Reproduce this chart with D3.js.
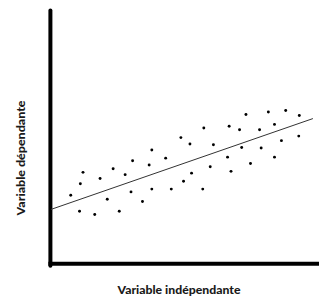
<!DOCTYPE html>
<html><head><meta charset="utf-8">
<script src="https://cdn.jsdelivr.net/npm/d3@7"></script>
<style>body{margin:0;background:#fff}svg{display:block}</style>
</head><body>
<svg id="c" width="319" height="297"></svg>
<script>
const xValues = [0.74,1.20,1.10,1.07,1.64,1.84,2.11,2.33,2.56,2.78,3.00,3.06,3.43,3.68,3.78,3.78,4.30,4.51,4.87,4.97,5.21,5.27,5.69,5.73,5.97,6.09,6.62,6.68,6.75,7.07,7.15,7.31,7.48,7.82,7.88,8.15,8.38,8.38,8.64,8.80,9.29,9.31];
const yValues = [2.70,3.60,3.15,2.07,1.94,3.36,2.54,3.74,2.07,3.51,2.83,4.06,2.45,3.89,4.48,2.94,4.16,2.94,4.97,3.25,4.72,3.57,2.94,5.35,3.82,4.69,4.20,5.42,3.64,5.28,4.58,5.88,3.95,5.28,4.56,5.98,5.49,4.20,4.85,6.04,5.03,5.84];
const lineX = [0, 9.82];
const lineY = [2.14, 5.72];
const xLabel = "Variable indépendante";
const yLabel = "Variable dépendante";

const svg = d3.select("#c");
const x = d3.scaleLinear().domain([0,10]).range([51,317.7]);
const y = d3.scaleLinear().domain([0,10]).range([263.7,10]);

// axes (thick black lines)
svg.append("line").attr("x1",x(0)-0.6).attr("x2",x(0)-0.6).attr("y1",y(10)+0.5).attr("y2",y(0)+2)
  .attr("stroke","#000").attr("stroke-width",4).attr("stroke-linecap","round");
svg.append("line").attr("x1",x(0)-2.6).attr("x2",321).attr("y1",y(0)).attr("y2",y(0))
  .attr("stroke","#000").attr("stroke-width",4);

// regression line
svg.append("line").attr("x1",x(lineX[0])).attr("y1",y(lineY[0]))
  .attr("x2",x(lineX[1])).attr("y2",y(lineY[1]))
  .attr("stroke","#333").attr("stroke-width",1);

// points
svg.append("g").selectAll("circle").data(xValues.map((v,i)=>[v,yValues[i]]))
  .join("circle").attr("cx",d=>x(d[0])).attr("cy",d=>y(d[1])).attr("r",1.45).attr("fill","#000");

// labels
svg.append("text").attr("x",179).attr("y",294.3).attr("text-anchor","middle")
  .attr("font-family","Lato").attr("font-weight","900").attr("font-size",11.2)
  .attr("textLength",123).attr("lengthAdjust","spacingAndGlyphs")
  .attr("fill","#1a1a1a").text(xLabel);
svg.append("text").attr("transform","translate(25,158) rotate(-90)").attr("text-anchor","middle")
  .attr("font-family","Lato").attr("font-weight","900").attr("font-size",11.2)
  .attr("textLength",115).attr("lengthAdjust","spacingAndGlyphs")
  .attr("fill","#1a1a1a").text(yLabel);
</script>
</body></html>
